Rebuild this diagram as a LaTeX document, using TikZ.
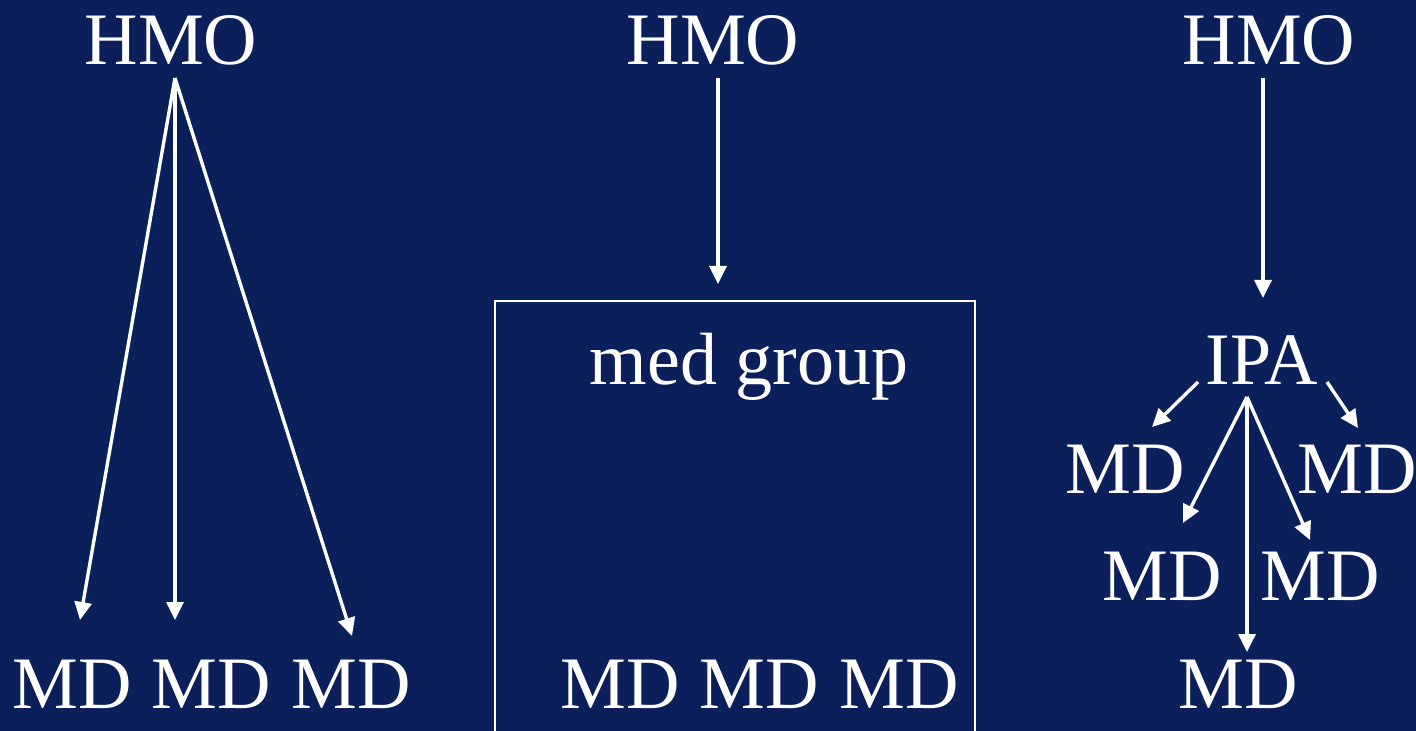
\documentclass[tikz,border=0pt]{standalone}
\usepackage{fontspec}
\setmainfont{Liberation Serif}
\usetikzlibrary{arrows.meta}
\definecolor{navy}{RGB}{11,31,91}
\begin{document}
\begin{tikzpicture}[x=0.5pt,y=-0.5pt,
    txt/.style={text=white,inner sep=0pt,anchor=base,font=\fontsize{37}{41}\selectfont},
    arr/.style={white,line width=1.7pt,-{Triangle[length=9pt,width=8.5pt]}}]
    \fill[navy] (0,0) rectangle (1416,731);
    \useasboundingbox (0,0) rectangle (1416,731);
    %
    \node[txt] (hmoA) at (171,65) {HMO};
    \node[txt] (mdA1) at (72,708) {MD};
    \node[txt] (mdA2) at (211,708) {MD};
    \node[txt] (mdA3) at (351,708) {MD};
    \coordinate (hubA) at (175,78);
    \coordinate (tipA1) at (80,620);
    \coordinate (tipA2) at (175,620);
    \coordinate (tipA3) at (352,636);
    \draw[arr] (hubA) -- (tipA1);
    \draw[arr] (hubA) -- (tipA2);
    \draw[arr] (hubA) -- (tipA3);
    %
    \node[txt] (hmoB) at (713,65) {HMO};
    \node[txt] (group) at (749,385) {med group};
    \node[txt] (mdB1) at (620,708) {MD};
    \node[txt] (mdB2) at (759,708) {MD};
    \node[txt] (mdB3) at (899,708) {MD};
    \coordinate (hubB) at (718,78);
    \coordinate (tipB) at (718,284);
    \draw[arr] (hubB) -- (tipB);
    \draw[white,line width=1.1pt] (495,745) |- (975,301) -- (975,745);
    %
    \node[txt] (hmoC) at (1269,65) {HMO};
    \node[txt] (ipa) at (1262,385) {IPA};
    \node[txt] (mdC1) at (1125,493) {MD};
    \node[txt] (mdC2) at (1357,493) {MD};
    \node[txt] (mdC3) at (1162,600) {MD};
    \node[txt] (mdC4) at (1320,600) {MD};
    \node[txt] (mdC5) at (1238,708) {MD};
    \coordinate (hubC) at (1263,78);
    \coordinate (tipC) at (1263,298);
    \draw[arr] (hubC) -- (tipC);
    \coordinate (ipaL) at (1198,382);
    \coordinate (ipaR) at (1327,382);
    \coordinate (ipaM) at (1247,397);
    \coordinate (tipC1) at (1152,427);
    \coordinate (tipC2) at (1358,428);
    \coordinate (tipC3) at (1183,523);
    \coordinate (tipC4) at (1310,540);
    \coordinate (tipC5) at (1247,652);
    \draw[arr] (ipaL) -- (tipC1);
    \draw[arr] (ipaR) -- (tipC2);
    \draw[arr] (ipaM) -- (tipC3);
    \draw[arr] (ipaM) -- (tipC4);
    \draw[arr] (ipaM) -- (tipC5);
\end{tikzpicture}
\end{document}
